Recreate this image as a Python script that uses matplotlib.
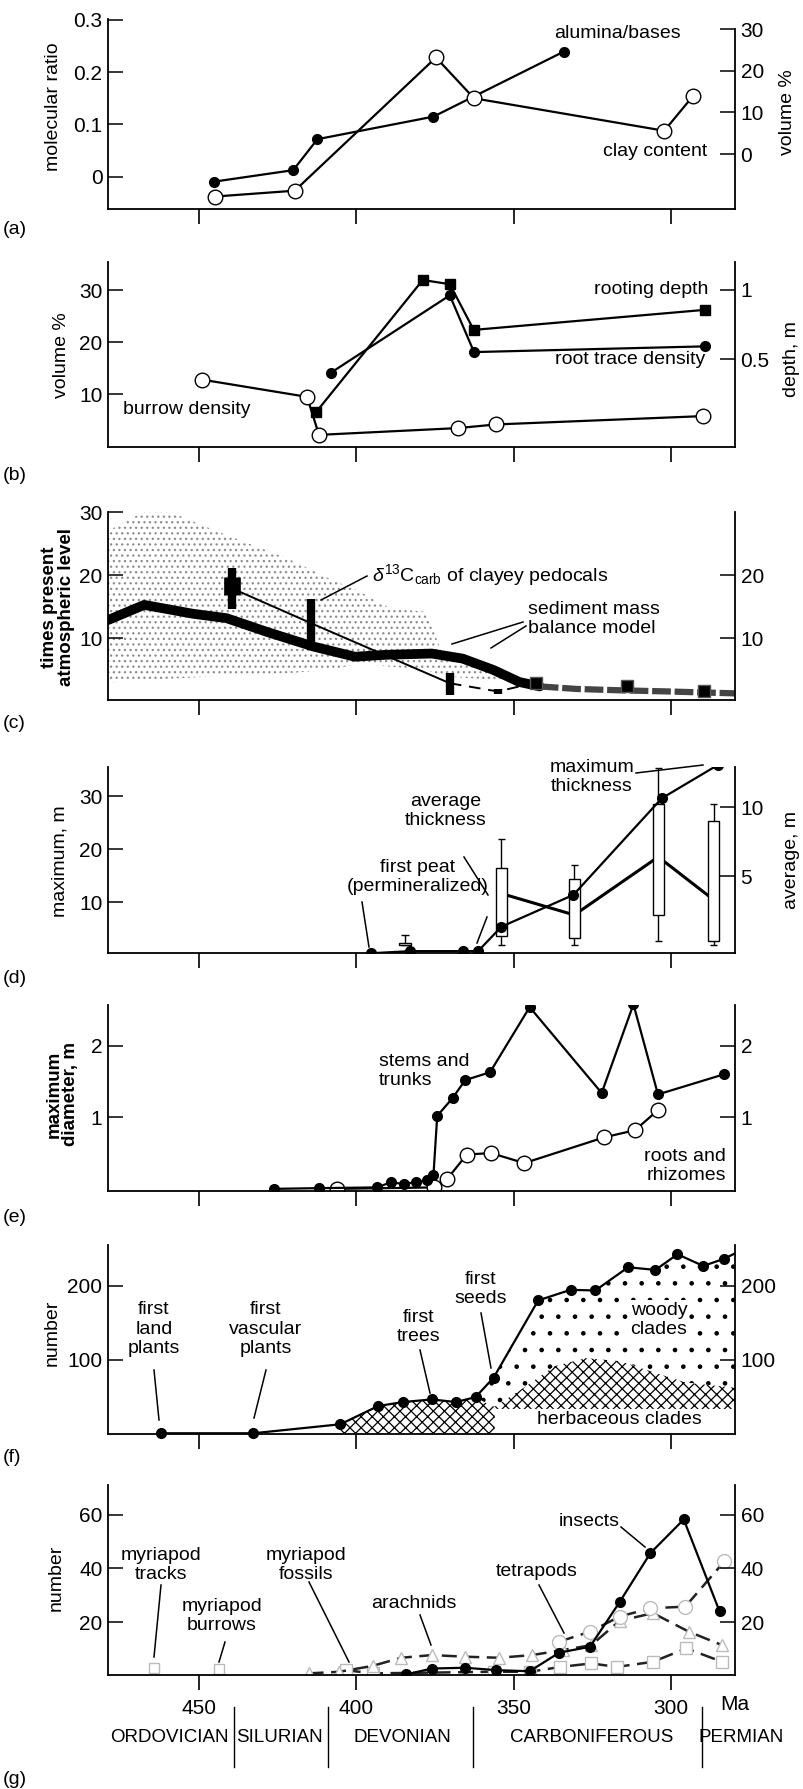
import numpy as np
import matplotlib
matplotlib.use('Agg')
import matplotlib.pyplot as plt
from matplotlib.lines import Line2D
from matplotlib.transforms import blended_transform_factory

plt.rcParams['font.family'] = ['Liberation Sans', 'DejaVu Sans']
plt.rcParams['mathtext.fontset'] = 'custom'
plt.rcParams['mathtext.rm'] = 'Liberation Sans'
plt.rcParams['mathtext.it'] = 'Liberation Sans:italic'
plt.rcParams['hatch.linewidth'] = 0.9

#---------------- data (Ma = millions of years ago) ----------------
# (a)
a_alum_ma = [445.4, 420.1, 412.4, 375.5, 334.0]
a_alum = [-0.009, 0.013, 0.072, 0.115, 0.239]
a_clay_ma = [444.9, 419.6, 374.7, 362.6, 302.1, 293.0]
a_clay = [-10.2, -8.8, 23.2, 13.4, 5.6, 13.9]
# (b)
b_root_ma = [412.7, 378.9, 370.3, 362.7, 289.0]
b_root_depth = [0.12, 1.07, 1.04, 0.71, 0.855]
b_trace_ma = [408.2, 370.3, 362.6, 289.0]
b_trace = [14.1, 29.0, 18.1, 19.2]
b_burrow_ma = [449.0, 415.7, 411.9, 367.8, 355.6, 289.9]
b_burrow = [12.8, 9.5, 2.2, 3.5, 4.2, 5.8]
# (c)
c_model_ma = [479, 467.5, 452, 441.3, 428.3, 413.6, 400.5, 390.7, 376, 366.2, 356.4, 348.2, 341.7]
c_model = [12.9, 15.3, 13.9, 13.2, 11.0, 8.7, 7.1, 7.4, 7.6, 6.8, 5.0, 3.1, 2.4]
c_model2_ma = [341.7, 330, 317.2, 300.8, 279.6]
c_model2 = [2.4, 2.0, 1.8, 1.6, 1.3]
c_range_ma = [479, 464, 444.6, 421.7, 408.7, 398.9, 389, 377.6, 372.7, 358, 349.8]
c_range_hi = [27, 31, 27, 22.6, 19.5, 17.4, 14.7, 14.2, 7.5, 4.8, 2.7]
c_range_lo = [3, 3.5, 4, 4.5, 5, 6, 5.5, 5, 4, 3.5, 3]
c_d13_ma = [439.5, 414.4, 370.3, 355.0, 343.0, 313.9, 289.4]
c_d13 = [17.9, 12.4, 2.9, 1.6, 3.0, 2.4, 1.6]
c_d13_lo = [14.7, 8.2, 1.1, 1.2, 2.2, 2.0, 1.3]
c_d13_hi = [21.1, 16.3, 4.5, 2.0, 3.6, 2.8, 2.0]
# (d)
d_max_ma = [395.3, 383.0, 366.2, 361.3, 353.9, 331.0, 302.9, 285.0]
d_max = [0.4, 0.8, 0.8, 0.8, 5.4, 11.4, 29.6, 35.9]
d_box_ma = [384.5, 353.9, 330.7, 304.0, 286.4]
d_box_lo = [0.0, 0.0, 0.0, 0.3, 0.0]
d_box_q1 = [0.0, 0.7, 0.5, 2.2, 0.3]
d_box_q3 = [0.2, 5.6, 4.8, 10.2, 9.0]
d_box_hi = [0.75, 7.7, 5.8, 12.8, 10.2]
d_avg_ma = [353.9, 330.7, 304.0, 286.4]
d_avg = [3.75, 2.2, 6.4, 3.3]
# (e)
e_stem_ma = [426.3, 411.9, 393.5, 389.1, 385.0, 381.2, 377.6, 375.5, 374.3, 369.4, 365.4,
             357.5, 344.9, 322.0, 311.9, 304.1, 283.2]
e_stem = [0.0, 0.01, 0.02, 0.09, 0.07, 0.09, 0.12, 0.19, 1.02, 1.27, 1.52,
          1.63, 2.54, 1.34, 2.58, 1.32, 1.60]
e_root_ma = [406.2, 375.2, 371.1, 364.9, 357.2, 346.6, 321.2, 311.4, 304.1]
e_root = [0.0, 0.02, 0.14, 0.48, 0.50, 0.36, 0.72, 0.82, 1.10]
# (f)
f_total_ma = [462.1, 432.8, 405.1, 393.1, 385.3, 376.0, 368.3, 362.1, 356.4, 342.2,
              331.9, 324.0, 313.6, 304.9, 297.9, 289.7, 283.2]
f_total = [0, 0, 12.2, 36.9, 42.3, 45.9, 42.3, 49.1, 75.2, 180.2,
           194.6, 193.7, 225.2, 221.6, 242.8, 227.0, 236.5]
f_herb_ma = [354.0, 346.0, 337.0, 327.0, 316.0, 305.0, 295.0, 279.6]
f_herb = [41.5, 64.0, 91.0, 102.0, 97.7, 82.0, 68.5, 61.8]
f_herb_floor = 33
# (g)
g_insect_ma = [384.2, 376.0, 365.4, 355.6, 344.9, 335.5, 325.7, 316.3, 306.5, 295.9, 284.5]
g_insect = [0.6, 2.8, 3.1, 2.2, 1.8, 8.7, 10.9, 27.5, 45.7, 58.2, 24.0]
g_tetra_ma = [335.5, 325.7, 316.3, 306.5, 295.4, 283.0]
g_tetra = [12.8, 16.5, 22.1, 25.2, 25.8, 42.6]
g_arach_ma = [415.2, 405.4, 394.8, 385.8, 376.0, 365.4, 354.7, 344.1, 334.3, 325.3, 316.3, 305.7, 294.3, 283.7]
g_arach = [1.0, 1.6, 3.8, 6.8, 7.8, 7.2, 6.8, 7.8, 9.7, 11.5, 20.5, 23.4, 16.5, 11.5]
g_myria_ma = [403.4, 394.8, 356.4, 344.9, 335.1, 325.3, 317.2, 305.7, 295.1, 283.7]
g_myria = [2.2, 1.0, 1.6, 1.6, 3.4, 4.7, 3.4, 5.3, 10.3, 5.3]
g_trace_ma = [464.5, 443.8]
g_trace = [3.1, 2.8]
periods = ['ORDOVICIAN', 'SILURIAN', 'DEVONIAN', 'CARBONIFEROUS', 'PERMIAN']
period_mid = [459.5, 424.4, 385.3, 325.1, 277.5]
period_bounds = [439, 409, 363, 290]
xticks = [450, 400, 350, 300]

#---------------- layout (pixels of the 804 x 1789 image) ----------------
W, H = 804, 1789
XL, XR = 108, 735
MA0, MA1 = 479, 279.6

fig = plt.figure(figsize=(W / 100, H / 100), dpi=100)

def panel(top, bot, ylim, yticks, ylabels, ylim2, yticks2, ylabels2):
    ax = fig.add_axes([XL / W, 1 - bot / H, (XR - XL) / W, (bot - top) / H])
    ax.set_xlim(MA0, MA1)
    ax.set_ylim(*ylim)
    ax.set_xticks(xticks)
    ax.set_yticks(yticks)
    ax.set_yticklabels(ylabels)
    ax.spines['top'].set_visible(False)
    ax.spines['right'].set_visible(False)
    for s in ax.spines.values():
        s.set_linewidth(1.3)
    ax.tick_params(axis='x', direction='out', length=11, width=1.2, labelbottom=False)
    ax.tick_params(axis='y', direction='in', length=11, width=1.1, labelsize=15, pad=4)
    ax2 = ax.twinx()
    ax2.set_ylim(*ylim2)
    ax2.set_yticks(yticks2)
    ax2.set_yticklabels(ylabels2)
    for k in ['top', 'left', 'bottom']:
        ax2.spines[k].set_visible(False)
    ax2.spines['right'].set_linewidth(1.3)
    ax2.tick_params(axis='y', direction='in', length=11, width=1.1, labelsize=15, pad=4)
    return ax, ax2

def ftext(x, y, s, **kw):
    kw.setdefault('fontsize', 14)
    kw.setdefault('ha', 'center')
    kw.setdefault('va', 'center')
    fig.text(x / W, 1 - y / H, s, **kw)

def lead(x0, y0, x1, y1):
    fig.add_artist(Line2D([x0 / W, x1 / W], [1 - y0 / H, 1 - y1 / H], color='k', lw=1.1))

filled = dict(marker='o', ms=7, mfc='k', mec='k', color='k', lw=1.6)
opened = dict(marker='o', ms=10.5, mfc='white', mec='k', mew=1.0, color='k', lw=1.6)

# ---------- (a)
ax, ax2 = panel(19, 209, (-0.061, 0.301), [0, 0.1, 0.2, 0.3], ['0', '0.1', '0.2', '0.3'],
                (-13.2, 32.45), [0, 10, 20, 30], ['0', '10', '20', '30'])
ax2.spines['right'].set_bounds(-13.2, 30)
ax.plot(a_alum_ma, a_alum, **filled)
ax2.plot(a_clay_ma, a_clay, **opened)
ftext(617, 33, 'alumina/bases')
ftext(655, 152, 'clay content')
ftext(54, 107, 'molecular ratio', rotation=90)
ftext(788, 112, 'volume %', rotation=90)
ftext(3, 230, '(a)', ha='left')

# ---------- (b)
ax, ax2 = panel(262, 447, (-0.13, 35.4), [10, 20, 30], ['10', '20', '30'],
                (-0.135, 1.2), [0.5, 1], ['0.5', '1'])
ax2.plot(b_root_ma, b_root_depth, marker='s', ms=7, mfc='k', mec='k', color='k', lw=1.6)
ax.plot(b_trace_ma, b_trace, **filled)
ax.plot(b_burrow_ma, b_burrow, **opened)
ftext(651, 290, 'rooting depth')
ftext(630, 359, 'root trace density')
ftext(187, 409, 'burrow density')
ftext(62, 355, 'volume %', rotation=90)
ftext(792, 359, 'depth, m', rotation=90)
ftext(3, 475, '(b)', ha='left')

# ---------- (c)
ax, ax2 = panel(512, 700, (0.25, 30), [10, 20, 30], ['10', '20', '30'],
                (0.25, 30), [10, 20], ['10', '20'])
ax.fill_between(c_range_ma, c_range_lo, c_range_hi, facecolor='none', edgecolor='#8c8c8c',
                hatch='...', linewidth=0)
ax.plot(c_model_ma, c_model, color='k', lw=7, solid_capstyle='round', solid_joinstyle='round')
ax.plot(c_model2_ma, c_model2, color='#444444', lw=4.5, ls=(0, (3, 0.6)))
ax.plot(c_d13_ma[:3], c_d13[:3], color='k', lw=1.4)
ax.plot(c_d13_ma[2:5], c_d13[2:5], color='k', lw=1.4, ls=(0, (6, 4)))
ax.vlines(c_d13_ma, c_d13_lo, c_d13_hi, color='k', lw=6)
ax.vlines(c_d13_ma[:1], [16.8], [19.7], color='k', lw=12)
ax.plot(c_d13_ma[4:], c_d13[4:], ls='none', marker='s', ms=9, mfc='k', mec='#555555')
ftext(372, 575, r'$\delta^{13}$C$_{\rm carb}$ of clayey pedocals', ha='left')
lead(367, 576, 321, 600)
ftext(528, 619, 'sediment mass\nbalance model', ha='left', linespacing=1.1)
lead(523, 622, 452, 644)
lead(526, 626, 491, 648)
ftext(58, 607, 'times present\natmospheric level', rotation=90, linespacing=0.95,
      fontweight='bold', fontsize=13.5)
ftext(3, 723, '(c)', ha='left')

# ---------- (d)
ax, ax2 = panel(767, 953, (0.45, 35.5), [10, 20, 30], ['10', '20', '30'],
                (-0.55, 12.9), [5, 10], ['5', '10'])
ax2.plot(d_avg_ma, d_avg, color='k', lw=2.2, zorder=2)
ax2.vlines(d_box_ma, d_box_lo, d_box_hi, color='k', lw=1.0, zorder=3)
ax2.hlines(d_box_hi, np.array(d_box_ma) + 1.2, np.array(d_box_ma) - 1.2, color='k', lw=1.0, zorder=3)
ax2.hlines(d_box_lo, np.array(d_box_ma) + 1.2, np.array(d_box_ma) - 1.2, color='k', lw=1.0, zorder=3)
ax2.bar(d_box_ma, np.array(d_box_q3) - np.array(d_box_q1), bottom=d_box_q1, width=3.6,
        facecolor='white', edgecolor='k', linewidth=1.0, zorder=4)
ax.set_zorder(ax2.get_zorder() + 1)
ax.patch.set_visible(False)
ax.plot(d_max_ma, d_max, **filled)
ftext(418, 877, 'first peat\n(permineralized)', linespacing=1.1)
lead(362, 902, 369, 947)
ftext(446, 811, 'average\nthickness', linespacing=1.1)
lead(464, 857, 488, 895)
lead(487, 917, 477, 943)
ftext(592, 777, 'maximum\nthickness', linespacing=1.1)
lead(636, 773, 703, 765)
ftext(60, 861, 'maximum, m', rotation=90)
ftext(792, 860, 'average, m', rotation=90)
ftext(3, 978, '(d)', ha='left')

# ---------- (e)
ax, ax2 = panel(1005, 1191, (-0.03, 2.57), [1, 2], ['1', '2'],
                (-0.03, 2.57), [1, 2], ['1', '2'])
ax.plot(e_root_ma, e_root, **opened)
ax.plot(e_stem_ma, e_stem, **filled)
ftext(379, 1071, 'stems and\ntrunks', ha='left', linespacing=1.1)
ftext(726, 1166, 'roots and\nrhizomes', ha='right', linespacing=1.1)
ftext(62, 1094, 'maximum\ndiameter, m', rotation=90, linespacing=0.95,
      fontweight='bold', fontsize=13.5)
ftext(3, 1217, '(e)', ha='left')

# ---------- (f)
ax, ax2 = panel(1245, 1434, (-1, 255.4), [100, 200], ['100', '200'],
                (-1, 255.4), [100, 200], ['100', '200'])
tot_ma = np.array(f_total_ma)
tot = np.array(f_total)
herb_ma = np.array(f_herb_ma)
herb = np.array(f_herb)
k = tot_ma <= 362.2
wx = np.concatenate([tot_ma[k], [MA1, MA1], herb_ma[::-1], [356.0]])
wy = np.concatenate([tot[k], [244, herb[-1]], herb[::-1], [30]])
ax.fill(wx, wy, facecolor='white', edgecolor='k', hatch='.', linewidth=0, zorder=1)
k2 = (tot_ma <= 405.2) & (tot_ma >= 362)
hx = np.concatenate([tot_ma[k2], [357.5, 356.0], herb_ma, [MA1, 356.0, 356.0, 405.1]])
hy = np.concatenate([tot[k2], [38, 36], herb, [f_herb_floor, f_herb_floor, 0, 0]])
ax.fill(hx, hy, facecolor='white', edgecolor='k', hatch='xxx', linewidth=0, zorder=1)
ax.plot(np.append(tot_ma, MA1), np.append(tot, 244), color='k', lw=1.6, zorder=3)
ax.plot(tot_ma, tot, ls='none', marker='o', ms=7, mfc='k', mec='k', zorder=4, clip_on=False)
ftext(154, 1329, 'first\nland\nplants')
lead(154, 1370, 159, 1420)
ftext(266, 1329, 'first\nvascular\nplants')
lead(266, 1370, 254, 1418)
ftext(419, 1327, 'first\ntrees')
lead(420, 1350, 430, 1393)
ftext(481, 1289, 'first\nseeds')
lead(481, 1313, 491, 1368)
ftext(659, 1320, 'woody\nclades', bbox=dict(facecolor='white', edgecolor='none', pad=1))
ftext(619, 1420, 'herbaceous clades')
ftext(52, 1333, 'number', rotation=90)
ftext(3, 1457, '(f)', ha='left')

# ---------- (g)
ax, ax2 = panel(1485, 1675, (0.4, 71), [20, 40, 60], ['20', '40', '60'],
                (0.4, 71), [20, 40, 60], ['20', '40', '60'])
dashed = dict(color='#222222', lw=1.8, ls=(0, (6, 3)), marker='s', ms=8, mfc='white', mec='#bbbbbb')
ax.plot(g_myria_ma, g_myria, **dashed)
ax.plot(g_arach_ma, g_arach, **dict(dashed, marker='^'))
ax.plot(g_tetra_ma, g_tetra, **dict(dashed, marker='o', ms=10))
ax.plot(g_trace_ma, g_trace, ls='none', marker='s', ms=7, mfc='white', mec='#bbbbbb')
ax.plot(g_insect_ma, g_insect, **filled)
ax.tick_params(axis='x', labelbottom=True, labelsize=15, pad=6)
ax.set_xticklabels([str(t) for t in xticks])
ftext(735, 1705, 'Ma', fontsize=15)
tr = blended_transform_factory(ax.transData, fig.transFigure)
for b in period_bounds:
    fig.add_artist(Line2D([b, b], [1 - 1707 / H, 1 - 1767 / H], transform=tr, color='k', lw=1.0))
for name, m in zip(periods, period_mid):
    fig.text(m, 1 - 1737 / H, name, transform=tr, ha='center', va='center', fontsize=13.5,
             family=['Liberation Sans Narrow', 'Liberation Sans'])
ftext(161, 1565, 'myriapod\ntracks', linespacing=1.1)
lead(161, 1585, 154, 1657)
ftext(222, 1616, 'myriapod\nburrows', linespacing=1.1)
lead(225, 1642, 219, 1662)
ftext(306, 1565, 'myriapod\nfossils', linespacing=1.1)
lead(309, 1582, 349, 1662)
ftext(414, 1603, 'arachnids')
lead(420, 1615, 431, 1645)
ftext(537, 1572, 'tetrapods')
lead(539, 1585, 564, 1633)
ftext(589, 1521, 'insects')
lead(621, 1527, 645, 1547)
ftext(56, 1578, 'number', rotation=90)
ftext(3, 1780, '(g)', ha='left')

fig.savefig('out.png', dpi=100)
